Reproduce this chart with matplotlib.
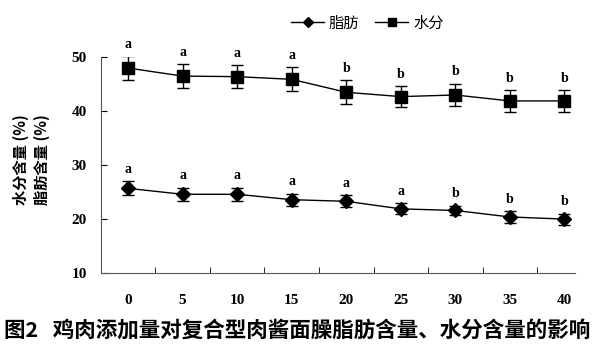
import matplotlib.pyplot as plt
import numpy as np
from matplotlib.lines import Line2D

# chicken addition level (%)
levels = ["0", "5", "10", "15", "20", "25", "30", "35", "40"]

fat = [25.7, 24.6, 24.6, 23.6, 23.3, 21.9, 21.6, 20.4, 20.0]
fat_err = [1.3, 1.2, 1.2, 1.1, 1.1, 1.0, 0.9, 1.1, 1.0]
fat_sig = ["a", "a", "a", "a", "a", "a", "b", "b", "b"]

water = [48.0, 46.5, 46.4, 45.9, 43.5, 42.7, 43.0, 41.9, 41.9]
water_err = [2.2, 2.2, 2.1, 2.2, 2.2, 1.9, 2.1, 2.0, 2.0]
water_sig = ["a", "a", "a", "a", "b", "b", "b", "b", "b"]

cjk = ["Noto Sans CJK SC", "DejaVu Sans"]
serif = "Liberation Serif"

fig = plt.figure(figsize=(6.0, 3.51), dpi=100)
ax = fig.add_axes([0.168, 0.222, 0.79, 0.615])

x = np.arange(len(levels))
ax.errorbar(x, fat, yerr=fat_err, color="black", marker="D", markersize=7,
            linewidth=1, capsize=4, elinewidth=1, capthick=1)
ax.errorbar(x, water, yerr=water_err, color="black", marker="s", markersize=8,
            linewidth=1, capsize=4, elinewidth=1, capthick=1)

for xi, v, e, s in zip(x, fat, fat_err, fat_sig):
    ax.text(xi, v + e + 1.0, s, ha="center", va="bottom", fontsize=10,
            fontweight="bold", family=serif)
for xi, v, e, s in zip(x, water, water_err, water_sig):
    ax.text(xi, v + e + 1.0, s, ha="center", va="bottom", fontsize=10,
            fontweight="bold", family=serif)

ax.set_xlim(-0.5, 8.19)
ax.set_ylim(10, 50)
ax.set_yticks([10, 20, 30, 40, 50])
ax.set_xticks(x)
ax.set_xticklabels(levels)
ax.set_xticks(x[:-1] + 0.5, minor=True)
ax.tick_params(axis="x", which="major", length=0, pad=15)
ax.tick_params(axis="x", which="minor", direction="in", length=4)
ax.tick_params(axis="y", direction="in", length=4, pad=10)
for lab in ax.get_xticklabels() + ax.get_yticklabels():
    lab.set_family(serif)
    lab.set_fontweight("bold")
    lab.set_fontsize(11)

ax.spines["top"].set_visible(False)
ax.spines["right"].set_visible(False)
ax.spines["left"].set_color("#555555")
ax.spines["bottom"].set_color("#555555")

handles = [
    Line2D([], [], color="black", linewidth=1, marker="D", markersize=5),
    Line2D([], [], color="black", linewidth=1, marker="s", markersize=5.5),
]
fig.legend(handles, ["脂肪", "水分"], loc="center",
           bbox_to_anchor=(0.612, 0.934), ncol=2, frameon=False,
           prop={"family": cjk, "size": 11},
           handlelength=2.2, columnspacing=1.0, handletextpad=0.3)

fig.text(0.035, 0.545, "水分含量 (%)", rotation=90, ha="center", va="center",
         family=cjk, fontweight="bold", fontsize=11)
fig.text(0.07, 0.545, "脂肪含量 (%)", rotation=90, ha="center", va="center",
         family=cjk, fontweight="bold", fontsize=11)

fig.text(0.006, 0.057, "图2   鸡肉添加量对复合型肉酱面臊脂肪含量、水分含量的影响",
         ha="left", va="center", family=cjk, fontweight="bold", fontsize=15.5)

fig.savefig("out.png", dpi=100)
